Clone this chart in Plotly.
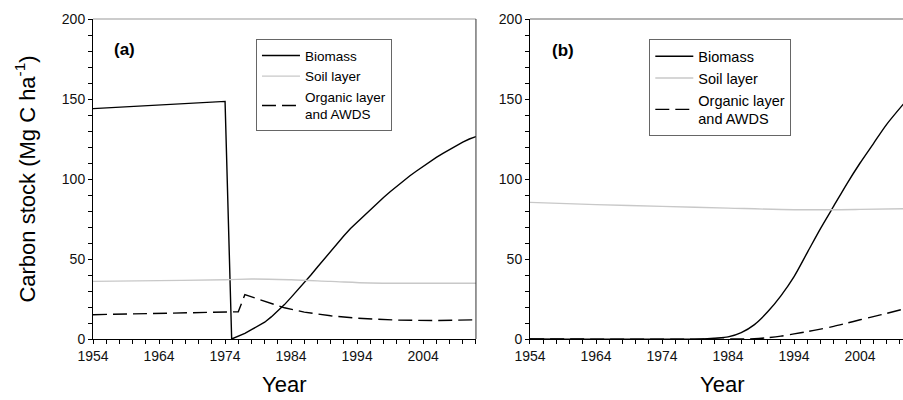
import plotly.graph_objects as go
from plotly.subplots import make_subplots

# ---- Panel (a) data ----
bio_a_years = [1954, 1974, 1975, 1976, 1977, 1978, 1979, 1980, 1981, 1982, 1983, 1984,
               1985, 1986, 1987, 1988, 1989, 1990, 1991, 1992, 1993, 1994, 1995, 1996,
               1997, 1998, 1999, 2000, 2001, 2002, 2003, 2004, 2005, 2006, 2007, 2008,
               2009, 2010, 2011, 2012]
bio_a_vals = [144, 148.5, 0, 1.5, 3.5, 5.8, 8, 10.5, 13.8, 17.5, 21.5, 26,
              30.5, 35, 40, 45, 50, 55, 60, 64.5, 69, 73, 77, 81,
              85, 88.5, 92, 95.5, 99, 102, 105, 108, 111, 113.5, 116, 118.5,
              121, 123, 125, 126.5]

soil_a_years = [1954, 1964, 1974, 1978, 1984, 1990, 1996, 2002, 2012]
soil_a_vals = [36, 36.5, 37, 37.5, 37, 36, 35, 34.8, 34.8]

org_a_years = [1954, 1964, 1975, 1976, 1977, 1980, 1983, 1986, 1990, 1994, 2000, 2006, 2012]
org_a_vals = [15.2, 16, 17, 17, 27.7, 23.5, 19.5, 16.8, 14.5, 13, 11.8, 11.5, 12]

# ---- Panel (b) data ----
bio_b_years = [1954, 1980, 1982, 1984, 1986, 1988, 1990, 1992, 1994, 1996, 1998, 2000,
               2002, 2004, 2006, 2008, 2011]
bio_b_vals = [0, 0, 0.5, 1.3, 4, 9, 17, 27, 39, 54, 69, 83,
              97, 110, 122, 134, 149]

soil_b_years = [1954, 1964, 1974, 1984, 1994, 2004, 2011]
soil_b_vals = [85.4, 84, 82.9, 81.8, 80.8, 81, 81.4]

org_b_years = [1954, 1986, 1988, 1990, 1992, 1994, 1996, 1998, 2000, 2002, 2004, 2006, 2008, 2011]
org_b_vals = [0, 0, 0.2, 0.8, 1.8, 3.2, 4.6, 6.2, 7.9, 9.9, 12, 14, 16, 19.2]

series_names = ["Biomass", "Soil layer", "Organic layer<br>and AWDS"]
x_ticks = [1954, 1964, 1974, 1984, 1994, 2004]
y_ticks = [0, 50, 100, 150, 200]

FONT = "Liberation Sans, Arial, sans-serif"

fig = make_subplots(rows=1, cols=2, horizontal_spacing=0.0667)

styles = [dict(color="black", width=1.4),
          dict(color="#c8c8c8", width=1.4),
          dict(color="black", width=1.4, dash="14px,6px")]

panel_a = [(bio_a_years, bio_a_vals), (soil_a_years, soil_a_vals), (org_a_years, org_a_vals)]
panel_b = [(bio_b_years, bio_b_vals), (soil_b_years, soil_b_vals), (org_b_years, org_b_vals)]

for i, (xs, ys) in enumerate(panel_a):
    shape = "linear" if i != 1 else "spline"
    fig.add_trace(go.Scatter(x=xs, y=ys, mode="lines", name=series_names[i],
                             line=dict(**styles[i], shape=shape), legend="legend"),
                  row=1, col=1)
for i, (xs, ys) in enumerate(panel_b):
    fig.add_trace(go.Scatter(x=xs, y=ys, mode="lines", name=series_names[i],
                             line=dict(**styles[i], shape="spline", smoothing=0.8),
                             legend="legend2"), row=1, col=2)

axis_common = dict(showgrid=False, zeroline=False, showline=True, linecolor="black",
                   linewidth=1, ticks="outside", ticklen=4, tickcolor="black",
                   tickfont=dict(family=FONT, size=14, color="#111"))

fig.update_xaxes(**axis_common, tickvals=x_ticks,
                 minor=dict(dtick=2, tick0=1954, ticks="outside", ticklen=4, tickcolor="black"))
fig.update_yaxes(**axis_common, tickvals=y_ticks, range=[0, 200],
                 minor=dict(dtick=10, tick0=0, ticks="outside", ticklen=4, tickcolor="black"))

fig.update_xaxes(range=[1954, 2012], domain=[0, 0.4728], row=1, col=1)
fig.update_xaxes(range=[1954, 2010.5], domain=[0.5395, 1], row=1, col=2)

fig.update_yaxes(title=dict(text="Carbon stock (Mg C ha<sup>-1</sup>)",
                            font=dict(family=FONT, size=22, color="black"), standoff=20),
                 row=1, col=1)

# frame lines (top and right borders)
fig.add_shape(type="line", xref="x domain", yref="y domain", x0=0, x1=1, y0=1, y1=1,
              line=dict(color="#999999", width=1))
fig.add_shape(type="line", xref="x domain", yref="y domain", x0=1, x1=1, y0=0, y1=1,
              line=dict(color="#333333", width=1))
fig.add_shape(type="line", xref="x2 domain", yref="y2 domain", x0=0, x1=1, y0=1, y1=1,
              line=dict(color="#666666", width=1))

# panel labels and x titles
fig.add_annotation(text="<b>(a)</b>", xref="x domain", yref="y domain", x=0.083, y=0.905,
                   xanchor="center", yanchor="middle",
                   showarrow=False, font=dict(family=FONT, size=17, color="black"))
fig.add_annotation(text="<b>(b)</b>", xref="x2 domain", yref="y2 domain", x=0.088, y=0.9,
                   xanchor="center", yanchor="middle",
                   showarrow=False, font=dict(family=FONT, size=17, color="black"))
fig.add_annotation(text="Year", xref="x domain", yref="paper", x=0.5, y=-0.1875,
                   xanchor="center", yanchor="bottom",
                   showarrow=False, font=dict(family=FONT, size=22, color="black"))
fig.add_annotation(text="Year", xref="paper", yref="paper", x=(722 - 93) / 810, y=-0.1875,
                   xanchor="center", yanchor="bottom",
                   showarrow=False, font=dict(family=FONT, size=22, color="black"))

legend_common = dict(xanchor="left", yanchor="top", bgcolor="white",
                     bordercolor="#666666", borderwidth=1, tracegroupgap=0,
                     itemwidth=38)
fig.update_layout(
    width=903, height=400,
    margin=dict(l=93, r=0, t=19, b=61),
    paper_bgcolor="white", plot_bgcolor="white",
    font=dict(family=FONT, color="black"),
    legend=dict(x=0.2012, y=0.9366, font=dict(family=FONT, size=13.5, color="black"),
                **legend_common),
    legend2=dict(x=0.6868, y=0.9366, font=dict(family=FONT, size=14.5, color="black"),
                 **legend_common),
)

fig.write_html("out.html")
